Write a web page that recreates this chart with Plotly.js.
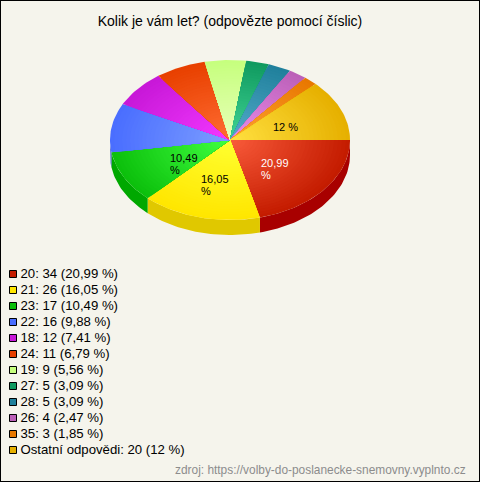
<!DOCTYPE html>
<html><head><meta charset="utf-8">
<script src="https://cdn.plot.ly/plotly-3.0.1.min.js"></script>
<style>html,body{margin:0;padding:0;background:#f5f4ec}#c{width:480px;height:482px}</style>
</head><body><div id="c"></div>
<script>
const categories = ["20","21","23","22","18","24","19","27","28","26","35","Ostatní odpovědi"];
const counts = [34,26,17,16,12,11,9,5,5,4,3,20];
const percents = ["20,99 %","16,05 %","10,49 %","9,88 %","7,41 %","6,79 %","5,56 %","3,09 %","3,09 %","2,47 %","1,85 %","12 %"];
const colors = ["#c41c00","#ffe600","#0cc00c","#4a6eff","#c818d8","#e84000","#c6ff7e","#109a60","#20809c","#bc60b8","#e87800","#e6b000"];
const centerColors = ["#f85a3a","#ffff30","#40ff40","#7c9dff","#f238ff","#ff6c32","#e8ffb8","#40d494","#54acca","#ea8cea","#ffa232","#ffe040"];
const sideColors = ["#a80000","#e0c800","#00a800","#3a58c8"];
const sliceLabels = [["20,99","%"],["16,05","%"],["10,49","%"],null,null,null,null,null,null,null,null,["12 %"]];
const labelColors = ["#ffffff","#000000","#000000","","","","","","","","","#000000"];
const labelAnchors = [[261,164],[201,180],[170,159],null,null,null,null,null,null,null,null,[273,128]];
const titleText = "Kolik je vám let? (odpovězte pomocí číslic)";
const sourceText = "zdroj: https://volby-do-poslanecke-snemovny.vyplnto.cz";

const CX=230, CY=140, RX=120, RY=80, DEPTH=15, BANDS=30;
const total = counts.reduce((a,b)=>a+b,0);
const traces = [];
const arc=(a0,a1,dy=0,f=1)=>{const n=Math.max(2,Math.ceil((a1-a0)/1.5)),x=[],y=[];
  for(let i=0;i<=n;i++){const t=(a0+(a1-a0)*i/n)*Math.PI/180;x.push(CX+f*RX*Math.cos(t));y.push(CY+dy+f*RY*Math.sin(t));}
  return {x,y};};
const fillTrace=(x,y,color)=>({type:'scatter',mode:'lines',x,y,fill:'toself',fillcolor:color,line:{width:0,color:color},hoverinfo:'skip',showlegend:false});
const hexRgb=h=>[1,3,5].map(k=>parseInt(h.substr(k,2),16));
const mix=(a,b,t)=>{const A=hexRgb(a),B=hexRgb(b);return 'rgb('+A.map((v,i)=>Math.round(v+(B[i]-v)*t)).join(',')+')';};
let acc=0;
const angles=counts.map(c=>{const a=[acc,acc+c/total*360];acc=a[1];return a;});
// side wall
angles.forEach((a,i)=>{
  if(a[0]>=180) return;
  const e=Math.min(a[1],180);
  const top=arc(a[0],e,0), bot=arc(a[0],e,DEPTH);
  traces.push(fillTrace(top.x.concat(bot.x.slice().reverse()),top.y.concat(bot.y.slice().reverse()),sideColors[i]));
});
// top face: each slice shaded from its rim colour to its centre colour
angles.forEach((a,i)=>{
  for(let b=0;b<BANDS;b++){
    const f=1-b/BANDS;
    const p=arc(a[0],a[1],0,f);
    traces.push(fillTrace([CX].concat(p.x,[CX]),[CY].concat(p.y,[CY]),mix(colors[i],centerColors[i],b/(BANDS-1))));
  }
});
// slice labels
const lx=[],ly=[],lt=[],lc=[];
sliceLabels.forEach((lines,i)=>{ if(!lines) return;
  lines.forEach((s,j)=>{lx.push(labelAnchors[i][0]);ly.push(labelAnchors[i][1]+j*12);lt.push(s);lc.push(labelColors[i]);});
});
traces.push({type:'scatter',mode:'text',x:lx,y:ly,text:lt,textposition:'middle right',cliponaxis:false,
  textfont:{family:'Liberation Sans, Arial, sans-serif',size:11,color:lc},hoverinfo:'skip',showlegend:false});
// legend
const legendText=categories.map((c,i)=>c+": "+counts[i]+" ("+percents[i]+")");
const legendY=categories.map((c,i)=>274+i*16.0);
traces.push({type:'scatter',mode:'markers',x:categories.map(()=>13),y:legendY,
  marker:{symbol:'square',size:7,color:colors,line:{color:'#000',width:1}},cliponaxis:false,hoverinfo:'skip',showlegend:false});
traces.push({type:'scatter',mode:'text',x:categories.map(()=>20.5),y:legendY.map(v=>v+0.5),text:legendText,textposition:'middle right',cliponaxis:false,
  textfont:{family:'Liberation Sans, Arial, sans-serif',size:13.2,color:'#000'},hoverinfo:'skip',showlegend:false});

Plotly.newPlot('c',traces,{
  width:480,height:482,margin:{l:0,r:0,t:0,b:0,pad:0},
  paper_bgcolor:'#f5f4ec',plot_bgcolor:'#f5f4ec',showlegend:false,
  xaxis:{range:[0,480],visible:false,fixedrange:true},
  yaxis:{range:[482,0],visible:false,fixedrange:true},
  title:{text:titleText,font:{family:'Liberation Sans, Arial, sans-serif',size:14,color:'#000'},x:230/480,xanchor:'center',y:1-21/482,yanchor:'middle'},
  shapes:[{type:'rect',xref:'paper',yref:'paper',x0:0,x1:1,y0:0,y1:1,line:{color:'#000',width:2},fillcolor:'rgba(0,0,0,0)'}],
  annotations:[{xref:'paper',yref:'paper',x:468/480,y:1-470/482,xanchor:'right',yanchor:'middle',showarrow:false,text:sourceText,
    font:{family:'Liberation Sans, Arial, sans-serif',size:11.9,color:'#8c8c8c'}}]
},{displayModeBar:false,staticPlot:true});
</script></body></html>
